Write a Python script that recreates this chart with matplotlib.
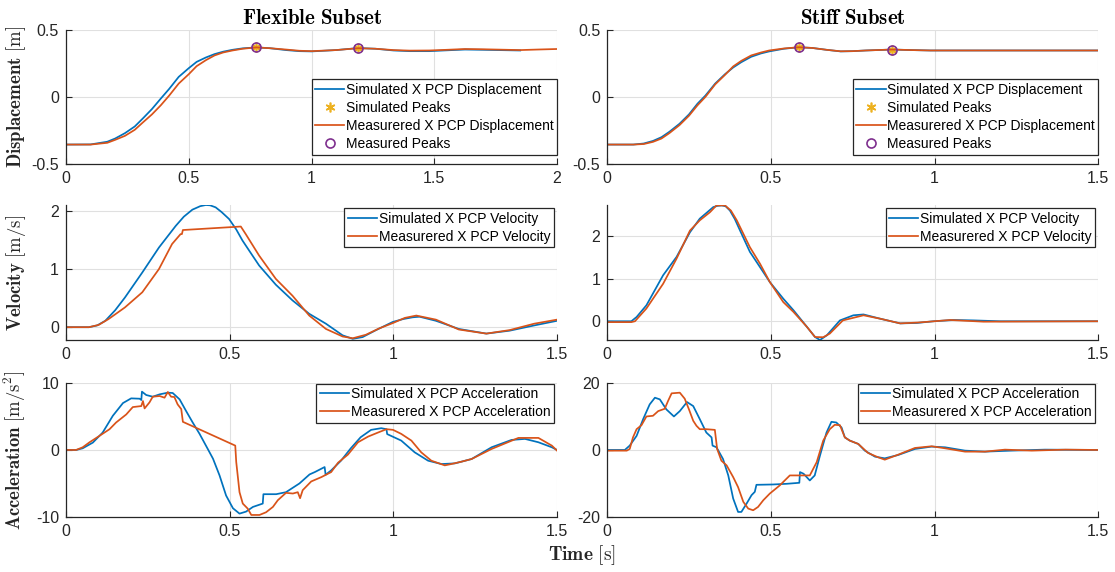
import numpy as np
import matplotlib
matplotlib.use('Agg')
import matplotlib.pyplot as plt
from matplotlib.ticker import FuncFormatter

plt.rcParams['font.family'] = ['Liberation Sans', 'DejaVu Sans']
plt.rcParams['mathtext.fontset'] = 'cm'
plt.rcParams['axes.unicode_minus'] = False

BLUE = '#0072BD'
ORANGE = '#D95319'
YELLOW = '#EDB120'
PURPLE = '#7E2F8E'
AXC = '#262626'

## ---------------- Flexible subset (left column) ----------------
flex_disp_sim_t = [0, 0.1, 0.168, 0.2, 0.24, 0.28, 0.313, 0.35, 0.386, 0.42, 0.459, 0.5, 0.532,
                   0.57, 0.605, 0.64, 0.678, 0.72, 0.775, 0.83, 0.896, 0.95, 1.0, 1.1, 1.19, 1.26,
                   1.334, 1.4, 1.48, 1.55, 1.625, 1.7, 1.85]
flex_disp_sim = [-0.355, -0.354, -0.334, -0.31, -0.27, -0.22, -0.16, -0.09, -0.012, 0.06, 0.15,
                 0.215, 0.262, 0.295, 0.32, 0.338, 0.352, 0.363, 0.37, 0.364, 0.35, 0.342, 0.34,
                 0.35, 0.365, 0.36, 0.347, 0.342, 0.342, 0.348, 0.354, 0.352, 0.347]
flex_disp_meas_t = [0, 0.1, 0.168, 0.2, 0.24, 0.28, 0.313, 0.35, 0.386, 0.42, 0.459, 0.5, 0.532,
                    0.57, 0.605, 0.64, 0.678, 0.72, 0.775, 0.83, 0.896, 0.95, 1.0, 1.1, 1.19, 1.26,
                    1.334, 1.4, 1.48, 1.55, 1.625, 1.7, 1.85, 1.92, 2.0]
flex_disp_meas = [-0.355, -0.355, -0.342, -0.32, -0.29, -0.245, -0.19, -0.13, -0.062, 0.01, 0.1,
                  0.17, 0.23, 0.275, 0.31, 0.332, 0.347, 0.36, 0.37, 0.364, 0.354, 0.345, 0.342,
                  0.35, 0.364, 0.36, 0.35, 0.346, 0.347, 0.352, 0.358, 0.356, 0.35, 0.354, 0.358]
flex_peaks_t = [0.775, 1.19]
flex_peaks_sim = [0.37, 0.365]
flex_peaks_meas = [0.37, 0.364]

flex_vel_sim_t = [0, 0.07, 0.095, 0.12, 0.15, 0.18, 0.233, 0.284, 0.335, 0.36, 0.386, 0.41,
                  0.427, 0.44, 0.457, 0.475, 0.498, 0.52, 0.539, 0.565, 0.59, 0.641, 0.692,
                  0.743, 0.794, 0.845, 0.876, 0.906, 0.947, 0.998, 1.03, 1.059, 1.08, 1.13,
                  1.2, 1.284, 1.355, 1.43, 1.5]
flex_vel_sim = [0, 0, 0.03, 0.11, 0.29, 0.51, 0.94, 1.37, 1.74, 1.9, 2.02, 2.08, 2.1, 2.095,
                2.06, 1.98, 1.86, 1.68, 1.49, 1.27, 1.06, 0.73, 0.46, 0.23, 0.06, -0.14, -0.2,
                -0.17, -0.05, 0.09, 0.14, 0.17, 0.18, 0.11, -0.03, -0.11, -0.06, 0.03, 0.11]
flex_vel_meas_t = [0, 0.07, 0.1, 0.13, 0.18, 0.233, 0.284, 0.324, 0.35, 0.354, 0.357, 0.534,
                   0.549, 0.59, 0.641, 0.692, 0.743, 0.794, 0.845, 0.876, 0.916, 0.957, 0.998,
                   1.035, 1.07, 1.13, 1.2, 1.284, 1.355, 1.43, 1.5]
flex_vel_meas = [0, 0, 0.04, 0.14, 0.34, 0.6, 1.0, 1.43, 1.6, 1.6, 1.67, 1.73, 1.6, 1.23, 0.83,
                 0.54, 0.2, -0.03, -0.16, -0.19, -0.13, -0.02, 0.07, 0.16, 0.2, 0.13, -0.04,
                 -0.11, -0.05, 0.06, 0.13]

flex_acc_sim_t = [0, 0.031, 0.051, 0.082, 0.112, 0.143, 0.174, 0.199, 0.225, 0.23, 0.232, 0.245,
                  0.265, 0.286, 0.311, 0.326, 0.347, 0.367, 0.387, 0.408, 0.433, 0.449, 0.469,
                  0.489, 0.51, 0.53, 0.55, 0.571, 0.601, 0.603, 0.642, 0.672, 0.713, 0.744, 0.76,
                  0.79, 0.793, 0.81, 0.84, 0.87, 0.9, 0.932, 0.963, 0.979, 0.981, 1.024, 1.065,
                  1.106, 1.147, 1.188, 1.239, 1.3, 1.361, 1.402, 1.443, 1.484, 1.5]
flex_acc_sim = [0, 0, 0.25, 1.1, 2.6, 5.1, 7.0, 7.7, 7.65, 7.45, 8.7, 8.2, 7.95, 8.3, 8.55, 8.5,
                7.55, 5.8, 4.1, 2.4, 0.15, -1.3, -3.8, -6.8, -8.7, -9.5, -9.2, -8.5, -8.0, -6.6,
                -6.6, -6.3, -5.0, -3.65, -3.3, -2.55, -3.7, -3.05, -1.6, 0.25, 1.9, 3.0, 3.25,
                3.1, 2.37, 1.4, -0.35, -1.6, -2.1, -2.0, -1.35, 0.4, 1.5, 1.65, 1.15, 0.4, 0]
flex_acc_meas_t = [0, 0.031, 0.051, 0.072, 0.102, 0.133, 0.153, 0.184, 0.204, 0.23, 0.235, 0.24,
                   0.255, 0.265, 0.286, 0.301, 0.311, 0.321, 0.331, 0.341, 0.352, 0.357, 0.517,
                   0.52, 0.53, 0.54, 0.555, 0.566, 0.591, 0.611, 0.632, 0.647, 0.672, 0.693,
                   0.708, 0.715, 0.723, 0.743, 0.749, 0.78, 0.81, 0.831, 0.861, 0.892, 0.923,
                   0.953, 0.979, 0.999, 1.024, 1.055, 1.085, 1.116, 1.157, 1.177, 1.208, 1.239,
                   1.3, 1.382, 1.443, 1.484, 1.5]
flex_acc_meas = [0, 0, 0.4, 1.15, 2.1, 3.1, 4.1, 5.3, 6.4, 6.55, 7.3, 6.2, 7.1, 7.95, 8.05, 7.8,
                 8.65, 7.95, 7.9, 6.8, 6.1, 4.2, 0.65, -1.8, -6.3, -8.0, -8.75, -9.7, -9.7, -9.3,
                 -8.5, -7.5, -6.4, -6.5, -6.3, -7.2, -6.0, -5.0, -4.7, -4.05, -3.3, -1.9, -0.7,
                 1.15, 2.0, 2.6, 3.1, 3.0, 2.4, 1.4, -0.35, -1.6, -2.3, -2.1, -1.75, -1.35, 0.15,
                 1.8, 1.8, 0.65, -0.1]

## ---------------- Stiff subset (right column) ----------------
stiff_disp_t = [0, 0.08, 0.112, 0.14, 0.166, 0.19, 0.221, 0.25, 0.276, 0.3, 0.33, 0.36, 0.385,
                0.41, 0.44, 0.47, 0.495, 0.54, 0.585, 0.626, 0.67, 0.713, 0.75, 0.79, 0.87, 0.93,
                0.987, 1.1, 1.5]
stiff_disp_sim = [-0.355, -0.355, -0.347, -0.328, -0.3, -0.26, -0.2, -0.13, -0.05, 0.01, 0.1,
                  0.17, 0.22, 0.26, 0.3, 0.325, 0.34, 0.36, 0.371, 0.366, 0.352, 0.34, 0.342,
                  0.347, 0.354, 0.35, 0.347, 0.347, 0.347]
stiff_disp_meas = [-0.355, -0.355, -0.351, -0.335, -0.31, -0.27, -0.21, -0.14, -0.062, 0.0,
                   0.094, 0.165, 0.228, 0.27, 0.31, 0.332, 0.347, 0.362, 0.371, 0.366, 0.352,
                   0.341, 0.342, 0.347, 0.354, 0.35, 0.347, 0.347, 0.347]
stiff_peaks_t = [0.585, 0.87]
stiff_peaks_sim = [0.371, 0.354]
stiff_peaks_meas = [0.371, 0.354]

stiff_vel_sim_t = [0, 0.074, 0.09, 0.12, 0.171, 0.212, 0.253, 0.283, 0.324, 0.337, 0.35, 0.362,
                   0.375, 0.39, 0.406, 0.436, 0.467, 0.497, 0.538, 0.569, 0.61, 0.635, 0.65,
                   0.671, 0.711, 0.752, 0.783, 0.834, 0.895, 0.946, 0.997, 1.058, 1.12, 1.2, 1.5]
stiff_vel_sim = [0, 0, 0.1, 0.375, 1.08, 1.51, 2.09, 2.41, 2.68, 2.71, 2.72, 2.7, 2.6, 2.4, 2.13,
                 1.63, 1.27, 0.92, 0.53, 0.26, -0.13, -0.37, -0.44, -0.33, 0.02, 0.14, 0.16,
                 0.06, -0.05, -0.04, 0.0, 0.03, 0.02, 0, 0]
stiff_vel_meas_t = [0, 0.074, 0.085, 0.12, 0.171, 0.212, 0.253, 0.283, 0.314, 0.334, 0.36, 0.378,
                    0.396, 0.436, 0.467, 0.497, 0.538, 0.569, 0.61, 0.635, 0.66, 0.68, 0.72,
                    0.783, 0.834, 0.895, 0.95, 1.048, 1.15, 1.5]
stiff_vel_meas = [-0.02, -0.02, 0.0, 0.3, 0.88, 1.47, 2.13, 2.37, 2.56, 2.72, 2.72, 2.6, 2.37,
                  1.74, 1.35, 0.92, 0.45, 0.22, -0.13, -0.37, -0.375, -0.29, 0.02, 0.14, 0.06,
                  -0.05, -0.03, 0.03, -0.01, 0]

stiff_acc_sim_t = [0, 0.054, 0.069, 0.09, 0.11, 0.13, 0.146, 0.161, 0.181, 0.204, 0.222, 0.244,
                   0.263, 0.283, 0.303, 0.319, 0.322, 0.334, 0.354, 0.37, 0.385, 0.4, 0.41, 0.426,
                   0.441, 0.451, 0.456, 0.507, 0.548, 0.587, 0.589, 0.6, 0.619, 0.634, 0.65,
                   0.67, 0.685, 0.7, 0.716, 0.726, 0.741, 0.767, 0.787, 0.818, 0.848, 0.889,
                   0.94, 0.991, 1.032, 1.093, 1.154, 1.235, 1.337, 1.5]
stiff_acc_sim = [0, 0, 1.3, 4.2, 9.2, 13.6, 15.6, 15.1, 12.1, 10.0, 11.6, 14.3, 13.1, 9.2, 5.2,
                 3.75, 1.3, 0.8, -2.7, -7.6, -14.5, -18.5, -18.5, -16.0, -13.5, -12.5, -10.4,
                 -10.3, -10.1, -9.8, -6.6, -7.1, -9.1, -7.6, -1.7, 5.2, 8.4, 8.2, 6.7, 3.75, 2.8,
                 1.8, -0.2, -2.0, -2.5, -1.5, 0.3, 1.0, 0.8, -0.2, -0.5, -0.2, 0.1, 0]
stiff_acc_meas_t = [0, 0.06, 0.069, 0.079, 0.09, 0.105, 0.12, 0.14, 0.156, 0.176, 0.186, 0.197,
                    0.222, 0.237, 0.25, 0.263, 0.273, 0.283, 0.303, 0.329, 0.336, 0.349, 0.365,
                    0.385, 0.4, 0.416, 0.431, 0.446, 0.461, 0.477, 0.497, 0.527, 0.558, 0.589,
                    0.619, 0.64, 0.66, 0.68, 0.695, 0.711, 0.726, 0.741, 0.767, 0.797, 0.828,
                    0.848, 0.889, 0.94, 0.991, 1.032, 1.093, 1.154, 1.215, 1.297, 1.4, 1.5]
stiff_acc_meas = [-0.2, -0.2, 0.3, 3.75, 6.2, 7.4, 10.0, 10.2, 11.6, 12.3, 14.6, 16.9, 17.1, 15.3,
                  12.1, 8.7, 7.2, 6.2, 6.2, 6.0, 0.3, -3.2, -4.6, -8.1, -11.1, -15.5, -17.5,
                  -18.0, -17.0, -15.0, -13.0, -10.6, -7.6, -7.6, -7.6, -3.65, 2.8, 6.2, 7.5,
                  7.4, 3.75, 2.8, 1.8, -0.9, -2.2, -2.9, -1.4, 0.6, 1.1, 0.5, -0.5, -0.5, 0.1,
                  -0.2, 0.1, 0]


fig = plt.figure(figsize=(11.15, 5.72), dpi=100)

## axes rectangles (fig fractions), left and right columns, three rows
cols = [(0.0592, 0.4404), (0.5445, 0.4405)]
rows = [(0.7133, 0.2343), (0.4056, 0.2360), (0.0962, 0.2343)]

fmt = FuncFormatter(lambda v, p: '%g' % v)


def style(ax, xlim, ylim, yticks, xticks):
    ax.set_xlim(xlim)
    ax.set_ylim(ylim)
    ax.set_xticks(xticks)
    ax.set_yticks(yticks)
    ax.xaxis.set_major_formatter(fmt)
    ax.yaxis.set_major_formatter(fmt)
    for s in ['top', 'right']:
        ax.spines[s].set_visible(False)
    for s in ['left', 'bottom']:
        ax.spines[s].set_color(AXC)
        ax.spines[s].set_linewidth(0.9)
    ax.tick_params(direction='in', length=4, width=0.8, colors=AXC, labelsize=11.5, pad=5,
                   labelcolor=AXC)
    ax.grid(True, color='#e0e0e0', lw=0.8)
    ax.set_axisbelow(True)


def legend(ax, loc, anchor, fs=10):
    leg = ax.legend(loc=loc, bbox_to_anchor=anchor, fontsize=fs, frameon=True, fancybox=False,
                    framealpha=1, edgecolor=AXC, borderpad=0.25, labelspacing=0.3,
                    handlelength=2.1, handletextpad=0.1, borderaxespad=0)
    leg.get_frame().set_linewidth(0.9)
    return leg


axes = [[fig.add_axes([c[0], r[0], c[1], r[1]]) for c in cols] for r in rows]

lw = 1.25
ast = (6, 2, 0)

## displacement
for ax, (ts, ys, tm, ym, pt, ps, pm, xmax) in zip(axes[0], [
        (flex_disp_sim_t, flex_disp_sim, flex_disp_meas_t, flex_disp_meas,
         flex_peaks_t, flex_peaks_sim, flex_peaks_meas, 2),
        (stiff_disp_t, stiff_disp_sim, stiff_disp_t, stiff_disp_meas,
         stiff_peaks_t, stiff_peaks_sim, stiff_peaks_meas, 1.5)]):
    ax.plot(ts, ys, color=BLUE, lw=lw, label='Simulated X PCP Displacement')
    ax.plot(pt, ps, ls='none', marker=ast, color=YELLOW, ms=7, mew=1.2, label='Simulated Peaks')
    ax.plot(tm, ym, color=ORANGE, lw=lw, label='Measurered X PCP Displacement')
    ax.plot(pt, pm, ls='none', marker='o', mfc='none', mec=PURPLE, ms=6.5, mew=1.2,
            label='Measured Peaks')
    style(ax, (0, xmax), (-0.5, 0.5), [-0.5, 0, 0.5], np.arange(0, xmax + 0.01, 0.5))
    legend(ax, 'lower right', (1.0, 0.07))

## velocity
for ax, (ts, ys, tm, ym, yl) in zip(axes[1], [
        (flex_vel_sim_t, flex_vel_sim, flex_vel_meas_t, flex_vel_meas, (-0.22, 2.1)),
        (stiff_vel_sim_t, stiff_vel_sim, stiff_vel_meas_t, stiff_vel_meas, (-0.44, 2.73))]):
    ax.plot(ts, ys, color=BLUE, lw=lw, label='Simulated X PCP Velocity')
    ax.plot(tm, ym, color=ORANGE, lw=lw, label='Measurered X PCP Velocity')
    style(ax, (0, 1.5), yl, [0, 1, 2], [0, 0.5, 1, 1.5])
    legend(ax, 'upper right', (0.993, 0.976))

## acceleration
for ax, (ts, ys, tm, ym, lim) in zip(axes[2], [
        (flex_acc_sim_t, flex_acc_sim, flex_acc_meas_t, flex_acc_meas, 10),
        (stiff_acc_sim_t, stiff_acc_sim, stiff_acc_meas_t, stiff_acc_meas, 20)]):
    ax.plot(ts, ys, color=BLUE, lw=lw, label='Simulated X PCP Acceleration')
    ax.plot(tm, ym, color=ORANGE, lw=lw, label='Measurered X PCP Acceleration')
    style(ax, (0, 1.5), (-lim, lim), [-lim, 0, lim], [0, 0.5, 1, 1.5])
    legend(ax, 'upper right', (0.993, 0.995))

axes[0][0].set_title(r'$\mathbf{Flexible\ Subset}$', fontsize=15, pad=4)
axes[0][1].set_title(r'$\mathbf{Stiff\ Subset}$', fontsize=15, pad=4)

ylabels = [r'$\mathbf{Displacement}\ [\mathrm{m}]$',
           r'$\mathbf{Velocity}\ [\mathrm{m/s}]$',
           r'$\mathbf{Acceleration}\ [\mathrm{m/s^2}]$']
for ax, lab in zip([a[0] for a in axes], ylabels):
    ax.set_ylabel(lab, fontsize=13.5, color=AXC)
    ax.yaxis.set_label_coords(-0.077, 0.5)

fig.text(0.522, 0.03, r'$\mathbf{Time}\ [\mathrm{s}]$', fontsize=14, ha='center', va='center',
         color=AXC)

fig.savefig('out.png', dpi=100)
